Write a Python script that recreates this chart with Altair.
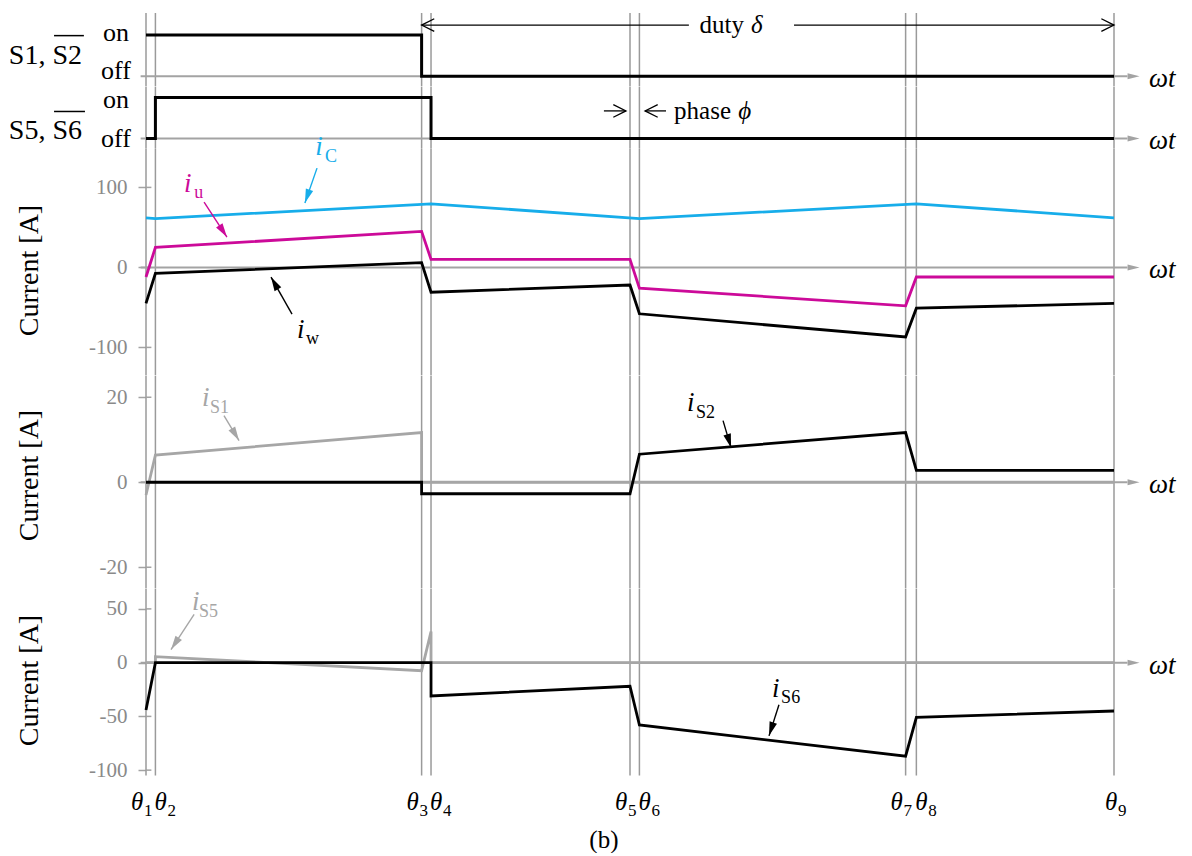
import math
import altair as alt
import pandas as pd

# ---------------- data ----------------
THETA = [0, 3.5, 102.5, 106, 180, 183.5, 282.5, 286.5, 360]      # θ1..θ9  (deg)
THETA_SUB = ["1", "2", "3", "4", "5", "6", "7", "8", "9"]

S1_X = [0, 102.5, 102.5, 360]
S1_STATE = [1, 1, 0, 0]
S5_X = [0, 3.5, 3.5, 106, 106, 360]
S5_STATE = [0, 0, 1, 1, 0, 0]

IC_X = [0, 3.5, 106, 183.5, 286.5, 360]
IC = [62, 61, 79.5, 61, 79.5, 62]
IU = [-12, 25, 45, 10, 10, -26, -48, -12, -12]
IW = [-45, -7.5, 6, -31, -22, -58, -87, -51, -45]

IS1_X = [0, 3.5, 102.5, 102.5, 360]
IS1 = [-3, 6.4, 11.7, 0, 0]
IS2_X = [0, 102.5, 102.5, 180, 183.5, 282.5, 286.5, 360]
IS2 = [0, 0, -2.7, -2.7, 6.6, 11.7, 2.8, 2.8]

IS5_X = [0, 3.5, 3.5, 102.5, 106, 106, 360]
IS5 = [0, 0, 5.5, -7.5, 29, 0, 0]
IS6_X = [0, 3.5, 106, 106, 180, 183.5, 282.5, 286.5, 360]
IS6 = [-44, 0, 0, -31, -22, -58, -87, -51, -45]

TICKS_C = [100, 0, -100]
TICKS_D = [20, 0, -20]
TICKS_E = [50, 0, -50, -100]

# ---------------- layout / style ----------------
W = 968
PXD = W / 360.0
FONT = "Liberation Serif"
GRID = "#9a9a9a"
AXC = "#a3a3a3"
CYAN = "#17ADEA"
MAG = "#CC0A99"
LGRAY = "#a6a6a6"
HEAD_AX = "M0,0L-0.5,2L0.5,2Z"
HEAD_AN = "M0,0L-0.55,2L0.55,2Z"
CHEV = "M-1,2L0,0L1,2"

PANELS = {
    "A": dict(dom=[-0.25, 1.535], k=41.14),
    "B": dict(dom=[-0.25, 1.256], k=41.0),
    "C": dict(dom=[-135, 148], k=0.8),
    "D": dict(dom=[-25, 25], k=4.25),
    "E": dict(dom=[-105, 68.5], k=1.075),
}
for p in PANELS.values():
    p["h"] = (p["dom"][1] - p["dom"][0]) * p["k"]

XS = alt.Scale(domain=[0, 360], nice=False, zero=False)


def X(f="x"):
    return alt.X(f"{f}:Q", scale=XS, axis=None)


def Y(p, ax, f="y"):
    return alt.Y(f"{f}:Q", scale=alt.Scale(domain=p["dom"], nice=False, zero=False), axis=ax)


def ang(p, x0, y0, x1, y1):
    dx = (x1 - x0) * PXD
    dy = -(y1 - y0) * p["k"]
    return math.degrees(math.atan2(dx, -dy)) % 360


def theta_rules():
    return alt.Chart(pd.DataFrame({"x": THETA})).mark_rule(color=GRID, strokeWidth=1.5).encode(x=X())


def time_axis(p, ax):
    line = alt.Chart(pd.DataFrame({"x": [-2], "x2": [365], "y": [0]})).mark_rule(
        color=AXC, strokeWidth=2).encode(x=X(), x2=alt.X2("x2:Q"), y=Y(p, ax))
    head = alt.Chart(pd.DataFrame({"x": [369.5], "y": [0], "a": [90]})).mark_point(
        shape=HEAD_AX, filled=True, color=AXC, size=144, opacity=1).encode(
        x=X(), y=Y(p, ax), angle=alt.Angle("a:Q", scale=None))
    lab = alt.Chart(pd.DataFrame({"x": [373], "y": [0], "t": ["ωt"]})).mark_text(
        font=FONT, fontStyle="italic", fontSize=27, align="left", baseline="middle", dy=3,
        color="black").encode(x=X(), y=Y(p, ax), text="t:N")
    return [line, head, lab]


def tick_stubs(p, ax, values):
    # short inner part of the crossing y-axis ticks
    df = pd.DataFrame({"x": [0] * len(values), "x2": [2.0] * len(values), "y": values})
    return alt.Chart(df).mark_rule(color=AXC, strokeWidth=1.5).encode(
        x=X(), x2=alt.X2("x2:Q"), y=Y(p, ax))


def series(p, ax, xs, ys, color, width=2.8):
    df = pd.DataFrame({"x": xs, "y": ys, "i": list(range(len(xs)))})
    return alt.Chart(df).mark_line(color=color, strokeWidth=width).encode(
        x=X(), y=Y(p, ax), order="i:Q")


def text(p, ax, x, y, t, size, color="black", style="normal", align="left", baseline="alphabetic"):
    df = pd.DataFrame({"x": [x], "y": [y], "t": [t]})
    return alt.Chart(df).mark_text(font=FONT, fontSize=size, fontStyle=style, color=color,
                                   align=align, baseline=baseline).encode(
        x=X(), y=Y(p, ax), text="t:N")


def hline(p, ax, x0, x1, y, width=1.5, color="black"):
    df = pd.DataFrame({"x": [x0], "x2": [x1], "y": [y]})
    return alt.Chart(df).mark_rule(color=color, strokeWidth=width).encode(
        x=X(), x2=alt.X2("x2:Q"), y=Y(p, ax))


def annot(p, ax, main_xy, sub_xy, sub, color, a0, a1):
    layers = [
        text(p, ax, main_xy[0], main_xy[1], "i", 27, color, "italic"),
        text(p, ax, sub_xy[0], sub_xy[1], sub, 18, color),
    ]
    df = pd.DataFrame({"x": [a0[0]], "y": [a0[1]], "x2": [a1[0]], "y2": [a1[1]]})
    layers.append(alt.Chart(df).mark_rule(color=color, strokeWidth=1.4).encode(
        x=X(), y=Y(p, ax), x2=alt.X2("x2:Q"), y2=alt.Y2("y2:Q")))
    hd = pd.DataFrame({"x": [a1[0]], "y": [a1[1]], "a": [ang(p, a0[0], a0[1], a1[0], a1[1])]})
    layers.append(alt.Chart(hd).mark_point(shape=HEAD_AN, filled=True, color=color, size=196,
                                           opacity=1).encode(
        x=X(), y=Y(p, ax), angle=alt.Angle("a:Q", scale=None)))
    return layers


def open_arrow(p, ax, x0, x1, y):
    shaft = hline(p, ax, x0, x1, y, 1.3)
    hd = pd.DataFrame({"x": [x1], "y": [y], "a": [90 if x1 > x0 else 270]})
    head = alt.Chart(hd).mark_point(shape=CHEV, filled=False, color="black", strokeWidth=1.3,
                                    size=160, opacity=1).encode(
        x=X(), y=Y(p, ax), angle=alt.Angle("a:Q", scale=None))
    return [shaft, head]


def cur_axis(values, title_y):
    return alt.Axis(values=values, title="Current [A]", titleX=-117, titleY=title_y,
                    titleAngle=270, titleAlign="center", titleBaseline="middle",
                    labelExpr="datum.value + ''")


# ---------------- panel A: S1 / S2 ----------------
pA = PANELS["A"]
layers = [theta_rules()] + time_axis(pA, None)
layers.append(series(pA, None, S1_X, S1_STATE, "black", 3))
layers += open_arrow(pA, None, 201.9, 102.5, 1.242)
layers += open_arrow(pA, None, 241.0, 360, 1.242)
layers.append(text(pA, None, 222.4, 1.242, "duty", 25, align="right", baseline="middle"))
layers.append(text(pA, None, 225.0, 1.242, "δ", 25, style="italic", baseline="middle"))
layers.append(text(pA, None, -51, 0.294, "S1, S2", 28))
layers.append(hline(pA, None, -34.2, -23.1, 0.985))
layers.append(text(pA, None, -11.2, 0.853, "on", 26, align="center"))
layers.append(text(pA, None, -11.2, -0.07, "off", 26, align="center"))
chartA = alt.layer(*layers).properties(width=W, height=pA["h"])

# ---------------- panel B: S5 / S6 ----------------
pB = PANELS["B"]
layers = [theta_rules()] + time_axis(pB, None)
layers.append(series(pB, None, S5_X, S5_STATE, "black", 3))
layers += open_arrow(pB, None, 170.3, 178.5, 0.673)
layers += open_arrow(pB, None, 193.4, 185.6, 0.673)
layers.append(text(pB, None, 196.4, 0.673, "phase", 25, baseline="middle"))
layers.append(text(pB, None, 220.3, 0.673, "ϕ", 25, style="italic", baseline="middle"))
layers.append(text(pB, None, -51, -0.01, "S5, S6", 28))
layers.append(hline(pB, None, -34.2, -22.7, 0.659))
layers.append(text(pB, None, -11.2, 0.746, "on", 26, align="center"))
layers.append(text(pB, None, -11.2, -0.205, "off", 26, align="center"))
chartB = alt.layer(*layers).properties(width=W, height=pB["h"])

# ---------------- panel C: iC, iu, iw ----------------
pC = PANELS["C"]
axC = cur_axis(TICKS_C, 121)
layers = [theta_rules()] + time_axis(pC, axC) + [tick_stubs(pC, axC, TICKS_C)]
layers.append(series(pC, axC, IC_X, IC, CYAN))
layers.append(series(pC, axC, THETA, IU, MAG))
layers.append(series(pC, axC, THETA, IW, "black"))
layers += annot(pC, axC, (62.9, 140.4), (66.6, 131.6), "C", CYAN, (63.6, 124.1), (59.1, 80.4))
layers += annot(pC, axC, (14.1, 94.1), (17.9, 86.6), "u", MAG, (21.6, 81.6), (30.1, 37.9))
layers += annot(pC, axC, (56.2, -88.4), (59.5, -95.9), "w", "black", (54.3, -58.4), (46.5, -12.1))
chartC = alt.layer(*layers).properties(width=W, height=pC["h"])

# ---------------- panel D: iS1, iS2 ----------------
pD = PANELS["D"]
axD = cur_axis(TICKS_D, 99)
layers = [theta_rules()] + time_axis(pD, axD) + [tick_stubs(pD, axD, TICKS_D)]
layers.append(series(pD, axD, IS1_X, IS1, LGRAY))
layers.append(series(pD, axD, IS2_X, IS2, "black"))
layers += annot(pD, axD, (20.8, 18.0), (23.8, 16.4), "S1", LGRAY, (29.0, 15.7), (34.6, 9.8))
layers += annot(pD, axD, (201.2, 16.8), (204.5, 15.2), "S2", "black", (214.6, 14.5), (217.6, 8.1))
chartD = alt.layer(*layers).properties(width=W, height=pD["h"])

# ---------------- panel E: iS5, iS6 ----------------
pE = PANELS["E"]
axE = cur_axis(TICKS_E, 91)
layers = [theta_rules()] + time_axis(pE, axE) + [tick_stubs(pE, axE, TICKS_E)]
layers.append(series(pE, axE, IS5_X, IS5, LGRAY))
layers.append(series(pE, axE, IS6_X, IS6, "black"))
layers += annot(pE, axE, (17.1, 49.4), (19.7, 42.9), "S5", LGRAY, (17.9, 44.8), (9.3, 12.2))
layers += annot(pE, axE, (232.8, -31.7), (236.2, -38.0), "S6", "black", (235.4, -39.2), (231.7, -68.1))

LABEL_DX = [-15, -1, -15, -1, -15, -1, -15, -1, -9]   # glyph left edge relative to line (px)
glyph_x = [t + d / PXD for t, d in zip(THETA, LABEL_DX)]
sub_x = [g + 13 / PXD for g in glyph_x]
th = pd.DataFrame({"x": glyph_x, "y": [-137.5] * 9, "t": ["θ"] * 9})
layers.append(alt.Chart(th).mark_text(font=FONT, fontSize=25, fontStyle="italic", align="left",
                                      baseline="alphabetic", color="black").encode(
    x=X(), y=Y(pE, axE), text="t:N"))
ths = pd.DataFrame({"x": sub_x, "y": [-143.1] * 9, "t": THETA_SUB})
layers.append(alt.Chart(ths).mark_text(font=FONT, fontSize=17, align="left",
                                       baseline="alphabetic", color="black").encode(
    x=X(), y=Y(pE, axE), text="t:N"))
layers.append(text(pE, axE, 170.3, -172, "(b)", 25, align="center"))
chartE = alt.layer(*layers).properties(width=W, height=pE["h"])

chart = alt.vconcat(chartA, chartB, chartC, chartD, chartE, spacing=0, bounds="flush").resolve_scale(
    y="independent"
).properties(
    padding={"left": 0, "top": 4, "right": 5, "bottom": 0}
).configure_view(stroke=None).configure_axis(
    domain=False, grid=False, tickColor=AXC, tickWidth=1.5, tickSize=8,
    labelFont=FONT, labelFontSize=21, labelColor="#8a8a8a", labelPadding=11,
    titleFont=FONT, titleFontSize=28, titleFontWeight="normal", titleColor="black"
)

chart.save("out.html", embed_options={"renderer": "svg", "actions": False})
